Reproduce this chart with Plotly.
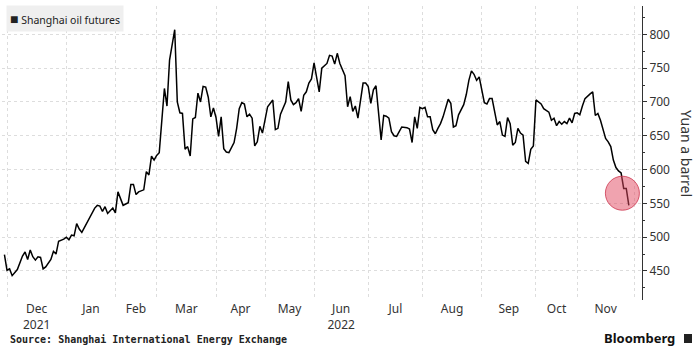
import numpy as np
import plotly.graph_objects as go

# ---------------- data ----------------
# Trading calendar of the Shanghai International Energy Exchange
START = "2021-11-30"  # session 0
HOLIDAYS = [
    "2022-01-03", "2022-01-31", "2022-02-01", "2022-02-02", "2022-02-03", "2022-02-04",
    "2022-04-04", "2022-04-05", "2022-05-02", "2022-05-03", "2022-05-04", "2022-06-03",
    "2022-09-12", "2022-10-03", "2022-10-04", "2022-10-05", "2022-10-06", "2022-10-07",
]
month_starts = [
    "2021-12-01", "2022-01-01", "2022-02-01", "2022-03-01", "2022-04-01", "2022-05-01",
    "2022-06-01", "2022-07-01", "2022-08-01", "2022-09-01", "2022-10-01", "2022-11-01",
    "2022-12-01",
]
month_labels = ["Dec<br>2021", "Jan", "Feb", "Mar", "Apr", "May",
                "Jun<br>2022", "Jul", "Aug", "Sep", "Oct", "Nov"]

# trading session number (since START) and settlement price, yuan a barrel
session = [
    0, 1, 2, 3, 5, 7, 8, 9, 10, 11, 12, 13, 14, 15, 16, 18, 19, 20, 21, 23,
    24, 25, 26, 27, 28, 29, 30, 32, 33, 35, 36, 37, 38, 39, 40, 41, 42, 43, 44, 45,
    46, 47, 48, 49, 50, 51, 52, 54, 55, 56, 57, 58, 59, 60, 62, 63, 64, 66, 67, 68,
    69, 70, 71, 72, 73, 74, 75, 76, 77, 78, 79, 80, 81, 82, 83, 84, 85, 86, 87, 89,
    90, 91, 92, 93, 94, 95, 96, 97, 98, 99, 100, 102, 103, 104, 105, 106, 107, 109, 110, 111,
    112, 113, 114, 115, 116, 117, 118, 119, 120, 122, 123, 125, 126, 127, 128, 129, 130, 131, 132, 133,
    134, 135, 136, 137, 139, 140, 141, 142, 143, 144, 145, 146, 147, 148, 149, 150, 151, 152, 153, 154,
    156, 157, 158, 159, 160, 161, 162, 163, 164, 165, 166, 167, 168, 169, 170, 171, 172, 173, 174, 175,
    176, 178, 179, 180, 181, 182, 183, 184, 185, 186, 187, 188, 189, 190, 191, 192, 193, 194, 195, 196,
    197, 198, 199, 200, 201, 202, 203, 204, 205, 206, 208, 209, 211, 212, 213, 214, 215, 216, 217, 218,
    219, 220, 221, 222, 223, 224, 225, 227, 228, 229, 230, 231, 232, 233, 234, 235, 236, 237, 238, 239,
    240, 241, 242,
]
price = [
    474, 451, 453, 443, 452, 472, 478, 467, 481, 471, 466, 471, 470, 453, 456, 467, 479, 475, 494, 497,
    500, 496, 503, 502, 520, 512, 507, 521, 527, 543, 547, 546, 538, 545, 535, 539, 543, 536, 567, 557,
    547, 549, 551, 578, 578, 563, 567, 570, 597, 592, 620, 614, 621, 625, 720, 694, 762, 807, 700, 684,
    683, 630, 634, 620, 675, 677, 713, 700, 723, 722, 707, 678, 691, 677, 649, 678, 631, 626, 625, 640,
    661, 690, 699, 697, 678, 682, 676, 635, 641, 664, 654, 693, 698, 703, 659, 661, 682, 700, 730, 703,
    696, 699, 705, 686, 710, 715, 728, 734, 758, 715, 750, 757, 769, 768, 756, 772, 757, 747, 739, 693,
    708, 686, 694, 676, 728, 728, 723, 698, 718, 724, 681, 644, 680, 679, 676, 656, 650, 649, 656, 663,
    662, 660, 640, 678, 661, 692, 690, 692, 678, 678, 659, 653, 661, 668, 678, 691, 704, 698, 663, 665,
    681, 696, 711, 732, 746, 741, 732, 737, 720, 699, 697, 705, 705, 688, 666, 671, 651, 649, 677, 668,
    636, 640, 661, 654, 651, 612, 609, 630, 635, 703, 697, 690, 685, 673, 676, 665, 671, 667, 671, 668,
    676, 669, 683, 684, 681, 694, 705, 712, 715, 680, 683, 673, 659, 646, 641, 634, 614, 603, 598, 595,
    572, 572, 547,
]
highlight_session = [239.5]
highlight_price = [565]

y_ticks = [450, 500, 550, 600, 650, 700, 750, 800]
series_name = "Shanghai oil futures"

# ---------------- derived ----------------
hol = np.array(HOLIDAYS, dtype="datetime64[D]")
grid_pos = np.busday_count(np.datetime64(START), np.array(month_starts, dtype="datetime64[D]"), holidays=hol)
label_pos = (grid_pos[:-1] + grid_pos[1:]) / 2.0
dates = np.busday_offset(np.datetime64(START), np.array(session), roll="forward", holidays=hol)
date_txt = [str(d) for d in dates]

FONT = "Noto Sans"
TXT = "#333333"
GRID = "#dddddd"

fig = go.Figure()
fig.add_trace(go.Scatter(
    x=session, y=price, mode="lines", name=series_name,
    line=dict(color="#000000", width=1.5),
    customdata=date_txt,
    hovertemplate="%{customdata}: %{y}<extra></extra>",
    showlegend=False,
))
fig.add_trace(go.Scatter(
    x=highlight_session, y=highlight_price, mode="markers",
    marker=dict(size=34, color="rgba(226,72,96,0.5)", line=dict(color="rgba(205,55,80,0.8)", width=1)),
    hoverinfo="skip", showlegend=False,
))

# pixel helpers for text placed outside the plot (plot area: x 2..642, y 6..300)
def px_x(p):
    return (p - 2) / 640.0

def px_y(p):
    return (300 - p) / 294.0

fig.update_layout(
    width=700, height=356, autosize=False,
    margin=dict(l=2, r=58, t=6, b=56, pad=0),
    paper_bgcolor="white", plot_bgcolor="white",
    font=dict(family=FONT, size=12, color=TXT),
    showlegend=False,
    xaxis=dict(
        range=[-0.94, 247.1],
        tickmode="array", tickvals=label_pos, ticktext=month_labels,
        ticks="", showgrid=False, zeroline=False, showline=False,
        tickfont=dict(family=FONT, size=12, color=TXT),
        minor=dict(tickmode="array", tickvals=grid_pos, showgrid=True,
                   gridcolor=GRID, griddash="dot", gridwidth=1, ticks=""),
    ),
    yaxis=dict(
        side="right", range=[407, 842],
        tickmode="array", tickvals=y_ticks,
        showgrid=True, gridcolor=GRID, griddash="dot", gridwidth=1,
        zeroline=False, showline=True, linecolor="#333333", linewidth=1,
        ticks="outside", ticklen=4, tickcolor="#333333", tickwidth=1,
        tickfont=dict(family=FONT, size=12, color=TXT),
        minor=dict(dtick=25, tick0=0, ticks="outside", ticklen=2,
                   tickcolor="#333333", showgrid=False),
    ),
    annotations=[
        dict(text="<span style='font-size:14px'>■</span> " + series_name,
             xref="paper", yref="paper",
             x=px_x(6), y=px_y(5), xanchor="left", yanchor="top", showarrow=False,
             font=dict(family=FONT, size=10.5, color="#222222"),
             bgcolor="#efefef", borderpad=3),
        dict(text="Yuan a barrel", xref="paper", yref="paper",
             x=px_x(687), y=px_y(153), xanchor="center", yanchor="middle",
             textangle=90, showarrow=False,
             font=dict(family=FONT, size=14, color=TXT)),
        dict(text="<b>Source: Shanghai International Energy Exchange</b>",
             xref="paper", yref="paper", x=px_x(8), y=px_y(339),
             xanchor="left", yanchor="middle", showarrow=False,
             font=dict(family="DejaVu Sans Mono", size=10, color="#222222")),
        dict(text="<b>Bloomberg</b>", xref="paper", yref="paper",
             x=px_x(677), y=px_y(338), xanchor="right", yanchor="middle", showarrow=False,
             font=dict(family=FONT, size=13, color="#111111")),
    ],
    shapes=[
        dict(type="rect", xref="paper", yref="paper",
             x0=px_x(684), x1=px_x(692), y0=px_y(343), y1=px_y(334),
             fillcolor="#222222", line=dict(width=0)),
    ],
)

fig.write_html(
    "out.html",
    config={"displayModeBar": False},
    post_script="document.body.style.margin='0px';document.body.style.overflow='hidden';",
)
